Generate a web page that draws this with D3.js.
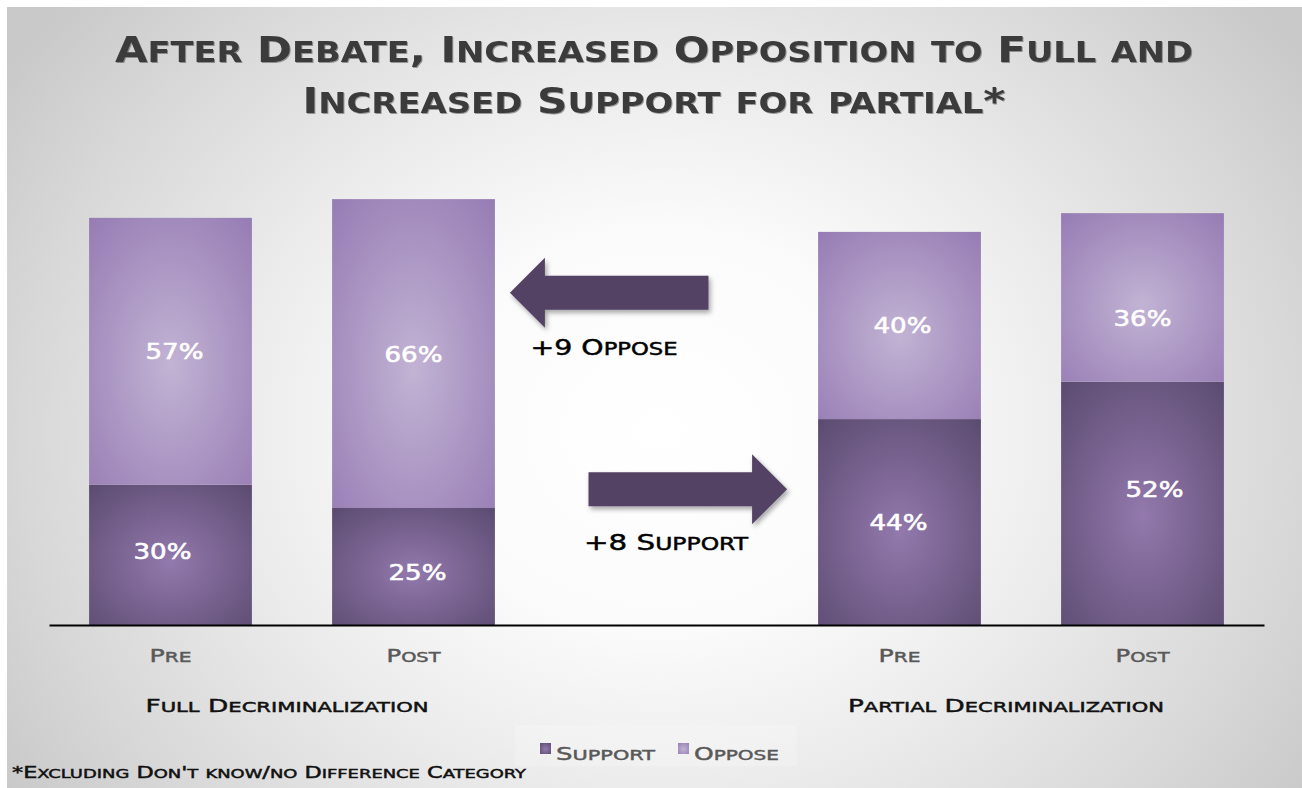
<!DOCTYPE html>
<html lang="en">
<head>
  <meta charset="UTF-8">
  <title>After Debate</title>
  <script src="https://d3js.org/d3.v7.min.js"></script>
  <style>
    body { margin: 0; background: #fff; }
    svg { display: block; }
    .cap { font-family: "DejaVu Sans", sans-serif; stroke-width: 0.45px; }
    .title { font-family: "DejaVu Sans Condensed", "DejaVu Sans", sans-serif; font-weight: bold; fill: #3b3b3b; }
    .pct { font-family: "DejaVu Sans", sans-serif; fill: #fff; stroke: #fff; stroke-width: 0.6px; font-size: 22px; text-anchor: middle; }
  </style>
</head>
<body>
  <div id="chart"></div>
  <script>
    const width = 1302;
    const height = 788;

    // data
    const groups = ["Full Decriminalization", "Partial Decriminalization"];
    const phases = ["Pre", "Post"];
    const seriesNames = ["Support", "Oppose"];
    const support = [30, 25, 44, 52];
    const oppose = [57, 66, 40, 36];
    const changeNotes = ["+9 Oppose", "+8 Support"];
    const titleLines = ["After Debate, Increased Opposition to Full and", "Increased Support for partial*"];
    const footnote = "*Excluding Don't know/no Difference Category";

    // slots: Full Pre, Full Post, gap, Partial Pre, Partial Post
    const slots = ["0-Pre", "0-Post", "gap", "1-Pre", "1-Post"];
    const rows = [];
    groups.forEach((g, gi) => phases.forEach((p, pi) => {
      const i = gi * 2 + pi;
      rows.push({ slot: gi + "-" + p, phase: p, group: g, Support: support[i], Oppose: oppose[i] });
    }));

    // small caps by hand: lower case letters become smaller capitals
    function smallCaps(text, str, size, ratio) {
      text.text(null);
      const runs = [];
      for (const ch of str) {
        const small = ch !== ch.toUpperCase();
        const last = runs[runs.length - 1];
        if (last && last.small === small) last.s += ch;
        else runs.push({ small: small, s: ch });
      }
      runs.forEach(r => text.append("tspan")
        .attr("font-size", r.small ? size * ratio : size)
        .text(r.s.toUpperCase()));
    }

    const svg = d3.select("#chart").append("svg")
      .attr("width", width).attr("height", height);
    const defs = svg.append("defs");

    const bg = defs.append("radialGradient").attr("id", "bg")
      .attr("gradientUnits", "userSpaceOnUse")
      .attr("cx", 660).attr("cy", 430).attr("r", 780)
      .attr("gradientTransform", "translate(660,430) scale(1,0.85) translate(-660,-430)");
    [[0, "#ffffff"], [0.3, "#fbfbfb"], [0.55, "#ebebeb"], [0.8, "#d9d9d9"], [1, "#c9c9c9"]]
      .forEach(s => bg.append("stop").attr("offset", s[0]).attr("stop-color", s[1]));

    const fills = { Support: ["#9379ad", "#5a4a6f"], Oppose: ["#c2b3d4", "#957bb3"] };
    seriesNames.forEach(k => {
      const g = defs.append("radialGradient").attr("id", "g" + k)
        .attr("cx", "50%").attr("cy", "55%").attr("r", "75%");
      g.append("stop").attr("offset", 0).attr("stop-color", fills[k][0]);
      g.append("stop").attr("offset", 1).attr("stop-color", fills[k][1]);
    });

    const shadow = defs.append("filter").attr("id", "shadow")
      .attr("x", "-20%").attr("y", "-30%").attr("width", "140%").attr("height", "160%");
    shadow.append("feDropShadow").attr("dx", 2).attr("dy", 3).attr("stdDeviation", 2.5)
      .attr("flood-color", "#000").attr("flood-opacity", 0.35);

    const tshadow = defs.append("filter").attr("id", "tshadow");
    tshadow.append("feDropShadow").attr("dx", 1).attr("dy", 1).attr("stdDeviation", 0.6)
      .attr("flood-color", "#000").attr("flood-opacity", 0.35);

    // background slide
    svg.append("rect").attr("x", 7).attr("y", 7).attr("width", width - 7).attr("height", height - 7)
      .attr("fill", "url(#bg)");

    // title
    const titleLen = [1078, 703];
    svg.selectAll(".title").data(titleLines).enter().append("text")
      .attr("class", "title")
      .attr("x", 654).attr("y", (d, i) => 62 + i * 51)
      .attr("text-anchor", "middle")
      .attr("textLength", (d, i) => titleLen[i])
      .attr("lengthAdjust", "spacingAndGlyphs")
      .attr("filter", "url(#tshadow)")
      .each(function (d) { smallCaps(d3.select(this), d, 36, 0.8); });

    const x = d3.scaleBand().domain(slots).range([49, 1264])
      .paddingInner(0.33).paddingOuter(0.165);
    const y = d3.scaleLinear().domain([0, 100]).range([625, 157]);

    const stacked = d3.stack().keys(seriesNames)(rows);

    const layers = svg.selectAll(".layer").data(stacked).enter().append("g")
      .attr("class", "layer")
      .attr("fill", d => "url(#g" + d.key + ")");

    layers.selectAll("rect").data(d => d).enter().append("rect")
      .attr("x", d => x(d.data.slot))
      .attr("y", d => y(d[1]))
      .attr("width", x.bandwidth())
      .attr("height", d => y(d[0]) - y(d[1]));

    // value labels (a few were moved by hand in the original)
    const nudge = { "0-Pre|Support": [-8, -4], "0-Pre|Oppose": [4, 0], "0-Post|Support": [4, 5],
                    "1-Pre|Support": [-1, 0], "1-Pre|Oppose": [3, 0], "1-Post|Oppose": [0, 21], "1-Post|Support": [12, -14] };
    stacked.forEach(layer => {
      svg.selectAll(null).data(layer).enter().append("text")
        .attr("class", "pct")
        .attr("x", d => x(d.data.slot) + x.bandwidth() / 2 + (nudge[d.data.slot + "|" + layer.key] || [0, 0])[0])
        .attr("y", d => (y(d[0]) + y(d[1])) / 2 + 8 + (nudge[d.data.slot + "|" + layer.key] || [0, 0])[1])
        .attr("textLength", 58)
        .attr("lengthAdjust", "spacingAndGlyphs")
        .text(d => d.data[layer.key] + "%");
    });

    // axis
    const axis = svg.append("g").attr("transform", "translate(0,625)")
      .call(d3.axisBottom(x).tickSize(0).tickPadding(24).tickFormat(d => d === "gap" ? "" : d.split("-")[1]));
    axis.select(".domain").attr("stroke", "#000").attr("stroke-width", 2);
    axis.selectAll(".tick text")
      .attr("class", "cap")
      .attr("fill", "#595959")
      .attr("stroke", "#595959")
      .attr("dy", 0)
      .attr("y", 37)
      .attr("textLength", d => d.endsWith("Pre") ? 42 : 54)
      .attr("lengthAdjust", "spacingAndGlyphs")
      .each(function (d) { if (d !== "gap") smallCaps(d3.select(this), d.split("-")[1], 17, 0.8); });

    // group labels
    const groupLen = [283, 316];
    const groupMid = [287, 1006];
    svg.selectAll(".grp").data(groups).enter().append("text")
      .attr("class", "cap grp")
      .attr("x", (d, i) => groupMid[i]).attr("y", 712)
      .attr("text-anchor", "middle")
      .attr("fill", "#111").attr("stroke", "#111")
      .attr("textLength", (d, i) => groupLen[i])
      .attr("lengthAdjust", "spacingAndGlyphs")
      .each(function (d) { smallCaps(d3.select(this), d, 17, 0.8); });

    // change arrows between the groups
    const mid = x("gap") + x.bandwidth() / 2;
    const arrows = [
      { dir: -1, tip: x("0-Post") + x.bandwidth() + 15, tail: mid + 52, cy: y(71), note: changeNotes[0], nx: 604, ny: 355, len: 147 },
      { dir: 1, tip: x("1-Pre") - 31, tail: mid - 68, cy: y(29), note: changeNotes[1], nx: 666, ny: 550, len: 164 }
    ];
    arrows.forEach(a => {
      const headBase = a.tip - a.dir * 35;
      const pts = [
        [a.tail, a.cy - 17], [headBase, a.cy - 17], [headBase, a.cy - 35], [a.tip, a.cy],
        [headBase, a.cy + 35], [headBase, a.cy + 17], [a.tail, a.cy + 17]
      ];
      svg.append("path")
        .attr("d", d3.line()(pts) + "Z")
        .attr("fill", "#534264")
        .attr("filter", "url(#shadow)");
      const t = svg.append("text")
        .attr("class", "cap")
        .attr("x", a.nx).attr("y", a.ny)
        .attr("text-anchor", "middle")
        .attr("fill", "#000").attr("stroke", "#000")
        .attr("textLength", a.len)
        .attr("lengthAdjust", "spacingAndGlyphs");
      smallCaps(t, a.note, 21, 0.8);
    });

    // legend
    svg.append("rect").attr("x", 515).attr("y", 725).attr("width", 282).attr("height", 41)
      .attr("fill", "#fff").attr("opacity", 0.2);
    const legX = [540, 678];
    const legLen = [99, 85];
    const leg = svg.selectAll(".leg").data(seriesNames).enter().append("g")
      .attr("class", "leg")
      .attr("transform", (d, i) => `translate(${legX[i]},0)`);
    leg.append("rect").attr("x", 0).attr("y", 743).attr("width", 11).attr("height", 11)
      .attr("fill", d => "url(#g" + d + ")");
    leg.append("text")
      .attr("class", "cap")
      .attr("x", 16).attr("y", 760)
      .attr("fill", "#595959").attr("stroke", "#595959")
      .attr("textLength", (d, i) => legLen[i])
      .attr("lengthAdjust", "spacingAndGlyphs")
      .each(function (d) { smallCaps(d3.select(this), d, 18, 0.8); });

    // footnote
    const foot = svg.append("text")
      .attr("class", "cap")
      .attr("x", 12).attr("y", 778)
      .attr("fill", "#111").attr("stroke", "#111")
      .attr("textLength", 514)
      .attr("lengthAdjust", "spacingAndGlyphs");
    smallCaps(foot, footnote, 15, 0.8);
  </script>
</body>
</html>
